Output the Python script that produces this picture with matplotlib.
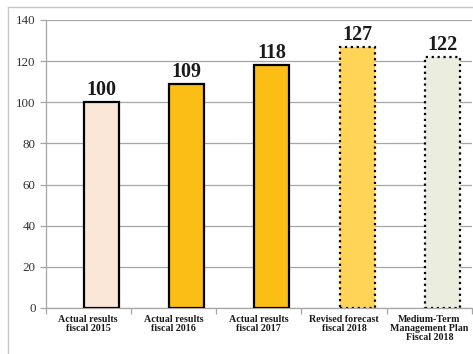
import matplotlib
matplotlib.use("Agg")
import matplotlib.pyplot as plt
from matplotlib.lines import Line2D

categories = ["Actual results\nfiscal 2015", "Actual results\nfiscal 2016", "Actual results\nfiscal 2017",
              "Revised forecast\nfiscal 2018", "Medium-Term\nManagement Plan\nFiscal 2018"]
values = [100, 109, 118, 127, 122]
colors = ["#FBE7D8", "#FBBE14", "#FBBE14", "#FFD457", "#EBEEDF"]
styles = ["solid", "solid", "solid", ":", ":"]
yticks = [0, 20, 40, 60, 80, 100, 120, 140]

plt.rcParams['font.family'] = ['Liberation Serif', 'DejaVu Serif']

fig = plt.figure(figsize=(4.73, 3.54), dpi=100)
W, H = 473, 354
ax = fig.add_axes([45.5 / W, 1 - 308 / H, (472 - 45.5) / W, (308 - 20) / H])

x = list(range(len(values)))
offset = 0.155
for xi, v, c, ls in zip(x, values, colors, styles):
    ax.bar(xi + offset, v, width=0.41, color=c, edgecolor="black", linewidth=1.6, linestyle=ls, zorder=3)
    ax.text(xi + offset, v + 1.0, str(v), ha="center", va="bottom", fontsize=14.5, fontweight="bold",
            color="#1a1a1a", zorder=4)

ax.set_xlim(-0.5, len(values) - 0.5)
ax.set_ylim(0, 140)
ax.set_yticks(yticks)
ax.set_yticklabels([str(t) for t in yticks], fontsize=9.4, color="#333333")
ax.yaxis.grid(True, color="#A6A6A6", linewidth=0.9, zorder=0)
ax.set_axisbelow(True)

ax.set_xticks(x)
ax.set_xticklabels(categories, fontsize=7.2, fontweight="bold", color="#1a1a1a", linespacing=1.0)
ax.tick_params(axis="x", length=0, pad=5)
ax.set_xticks([i + 0.5 for i in range(-1, len(values))], minor=True)
ax.tick_params(axis="x", which="minor", length=4, color="#A6A6A6", width=0.9)
ax.tick_params(axis="y", length=4, color="#A6A6A6", width=0.9, pad=3)

for s in ["top", "right"]:
    ax.spines[s].set_visible(False)
for s in ["left", "bottom"]:
    ax.spines[s].set_color("#A6A6A6")
    ax.spines[s].set_linewidth(0.9)

# outer frame (partially visible)
fig.add_artist(Line2D([8 / W, 1.0], [1 - 7 / H, 1 - 7 / H], transform=fig.transFigure, color="#C8C8C8", linewidth=1.0))
fig.add_artist(Line2D([8 / W, 8 / W], [0, 1 - 7 / H], transform=fig.transFigure, color="#C8C8C8", linewidth=1.0))

fig.savefig("out.png", dpi=100)
